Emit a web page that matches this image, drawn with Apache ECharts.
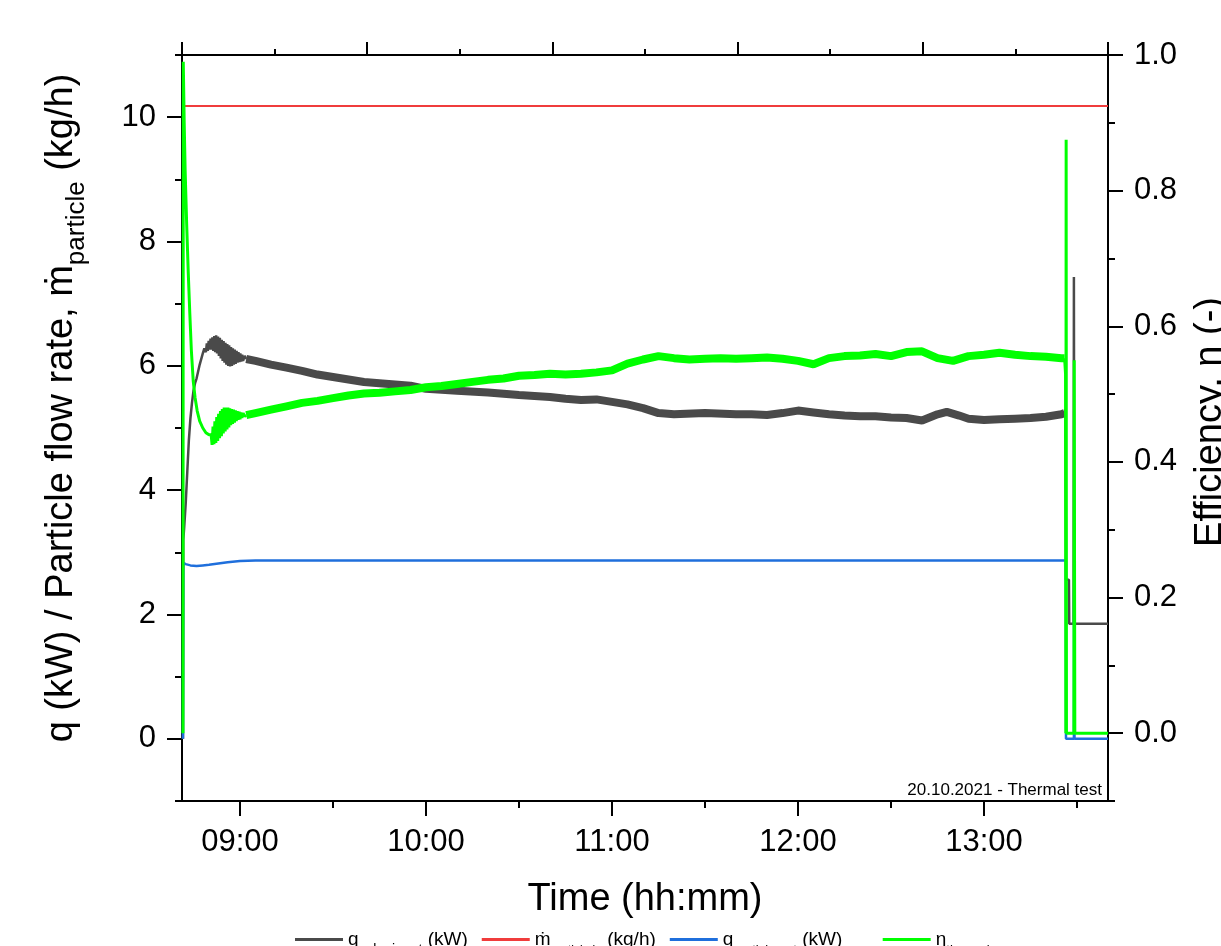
<!DOCTYPE html>
<html><head><meta charset="utf-8">
<script src="https://cdn.jsdelivr.net/npm/echarts@6/dist/echarts.min.js"></script>
<style>html,body{margin:0;padding:0;background:#fff}#c{width:1221px;height:946px}</style>
</head><body><div id="c"></div>
<script>
// ---- axis ticks (time in minutes since midnight) ----
const X_MIN = 521.29, X_MAX = 820.0;
const xMajorTicks = [540, 600, 660, 720, 780];
const xMinorTicks = [570, 630, 690, 750, 810];
const leftMajorTicks = [0, 2, 4, 6, 8, 10];
const leftMinorTicks = [-1, 1, 3, 5, 7, 9, 11];
const rightMajorTicks = [0, 0.2, 0.4, 0.6, 0.8, 1.0];
const rightMinorTicks = [-0.1, 0.1, 0.3, 0.5, 0.7, 0.9];

// ---- series names ----
const seriesNames = ['qSolar', 'mParticle', 'qParticle', 'eta'];

// ---- grey: q solar (kW), left axis ----
const qSolarRise = [[521.6,0],[521.7,3.2],[522,3.4],[522.5,3.8],[523,4.3],[523.5,4.8],[524,5.15],[524.5,5.4],[525,5.6],[525.5,5.72],[526,5.8],[527,6.02],[528,6.2],[528.5,6.28],
 [529.0,6.22],[529.3,6.36],[529.6,6.24],[529.9,6.40],[530.2,6.26],[530.5,6.44],[530.8,6.26],[531.1,6.46],[531.4,6.24],[531.7,6.48],[532.0,6.22],[532.3,6.49],[532.6,6.20],[532.9,6.47],[533.2,6.16],[533.5,6.45],[533.8,6.12],[534.1,6.42],[534.4,6.08],[534.7,6.40],[535.0,6.05],[535.3,6.37],[535.6,6.02],[535.9,6.35],[536.2,6.00],[536.5,6.33],[536.8,5.99],[537.1,6.30],[537.4,6.00],[537.7,6.28],[538.0,6.02],[538.3,6.26],[538.6,6.03],[538.9,6.24],[539.2,6.05],[539.5,6.22],[539.8,6.06],[540.1,6.20],[540.4,6.07],[540.7,6.18],[541.0,6.08],[541.5,6.16],[542.0,6.11]];
const qSolarSteady = [[542,6.11],[545,6.08],[550,6.02],[555,5.97],[560,5.92],[565,5.86],[570,5.82],[575,5.78],[580,5.74],[585,5.72],[590,5.70],[595,5.68],[600,5.63],[610,5.60],[620,5.57],[630,5.53],[640,5.50],[645,5.47],[650,5.45],[655,5.46],[660,5.42],[665,5.38],[670,5.32],[675,5.24],[680,5.22],[690,5.24],[700,5.22],[705,5.22],[710,5.21],[715,5.24],[720,5.28],[725,5.25],[730,5.22],[735,5.20],[740,5.19],[745,5.19],[750,5.17],[755,5.16],[760,5.12],[765,5.22],[768,5.26],[772,5.20],[775,5.15],[780,5.13],[785,5.14],[790,5.15],[795,5.16],[800,5.18],[805,5.22],[806,5.24]];
const qSolarEnd = [[806,5.24],[806.3,5.3],[806.45,2.56],[807.4,2.56],[807.5,1.85],[808.9,1.85],[809.0,7.43],[809.15,1.85],[820,1.85]];

// ---- red: particle mass flow (kg/h), left axis ----
const mParticle = [[521.7,10.18],[820,10.18]];

// ---- blue: q particle (kW), left axis ----
const qParticle = [[521.6,0],[521.7,2.83],[522.5,2.81],[524,2.79],[526,2.78],[528,2.79],[530,2.80],[533,2.82],[536,2.84],[540,2.86],[545,2.87],[806.4,2.87],[806.45,0],[809.0,0],[809.05,2.4],[809.2,0],[820,0]];

// ---- green: efficiency (-), right axis ----
const etaDrop = [[521.6,0],[521.7,0.99],[522,0.9],[522.3,0.83],[522.8,0.75],[523.3,0.68],[523.8,0.62],[524.3,0.565],[524.9,0.52],[525.5,0.495],[526.2,0.475],[527,0.46],[528,0.45],[529,0.443],[530,0.44],
 [530.7,0.44],[531.0,0.425],[531.3,0.452],[531.6,0.426],[531.9,0.46],[532.2,0.428],[532.5,0.466],[532.8,0.431],[533.1,0.471],[533.4,0.435],[533.7,0.475],[534.0,0.438],[534.3,0.478],[534.6,0.442],[534.9,0.48],[535.2,0.445],[535.5,0.48],[535.8,0.448],[536.1,0.48],[536.4,0.451],[536.7,0.479],[537.0,0.454],[537.3,0.478],[537.6,0.456],[537.9,0.477],[538.2,0.458],[538.5,0.476],[538.8,0.46],[539.1,0.475],[539.4,0.462],[539.7,0.474],[540.0,0.463],[540.3,0.473],[540.6,0.465],[541.0,0.472],[541.5,0.467],[542.0,0.469]];
const etaSteady = [[542,0.469],[545,0.472],[550,0.477],[555,0.482],[560,0.487],[565,0.49],[570,0.494],[575,0.498],[580,0.501],[585,0.502],[590,0.504],[595,0.506],[600,0.51],[605,0.512],[610,0.515],[615,0.518],[620,0.521],[625,0.523],[630,0.527],[635,0.528],[640,0.53],[645,0.529],[650,0.53],[655,0.532],[660,0.535],[665,0.545],[670,0.551],[675,0.556],[680,0.553],[685,0.551],[690,0.552],[695,0.553],[700,0.552],[705,0.553],[710,0.554],[715,0.552],[720,0.549],[725,0.544],[730,0.553],[735,0.556],[740,0.557],[745,0.559],[750,0.556],[755,0.562],[760,0.563],[765,0.553],[770,0.549],[775,0.556],[780,0.558],[785,0.561],[790,0.558],[795,0.556],[800,0.555],[805,0.553],[806,0.553]];
const etaEnd = [[806,0.553],[806.3,0.53],[806.4,0],[806.5,0.875],[806.6,0],[809.0,0],[809.1,0.55],[809.3,0],[820,0]];

const FONT = '"Liberation Sans", Arial, sans-serif';
const C_GREY = '#4a4a4a', C_RED = '#f03c3c', C_BLUE = '#1f6fdc', C_GREEN = '#00ff00';

function hhmm(v){ const h=Math.floor(v/60+1e-9); const m=Math.round(v-h*60); return String(h).padStart(2,'0')+':'+String(m).padStart(2,'0'); }
const legendLabels = {
  qSolar: 'q{s14|solar,input} (kW)',
  mParticle: 'ṁ{s12|particle,in} (kg/h)',
  qParticle: 'q{s|particle,net} (kW)     ',
  eta: 'η{s|thermal}'
};
const blackLine = {color:'#000', width:2};

const chart = echarts.init(document.getElementById('c'), null, {renderer:'canvas'});
function lineSeries(name, data, color, width, yIdx, z){
  return {name, type:'line', data, xAxisIndex:0, yAxisIndex:yIdx, showSymbol:false, symbol:'none',
    lineStyle:{color, width}, itemStyle:{color}, z, animation:false, clip:true};
}
chart.setOption({
  backgroundColor:'#fff',
  animation:false,
  grid:{left:182, right:113, top:55, bottom:145, containLabel:false, outerBoundsMode:'none'},
  legend:{data:seriesNames, top:925, left:290, icon:'rect', itemWidth:48, itemHeight:3, itemGap:14,
    formatter: n => legendLabels[n],
    textStyle:{fontFamily:FONT, fontSize:19, color:'#000',
      rich:{
        s:{fontFamily:FONT, fontSize:13, padding:[22,0,0,0]},
        s14:{fontFamily:FONT, fontSize:14, padding:[21,0,0,0]},
        s12:{fontFamily:FONT, fontSize:12, padding:[23,0,0,0]}}}},
  xAxis:[
    {type:'value', position:'bottom', min:X_MIN, max:X_MAX,
      axisLine:{show:true, onZero:false, lineStyle:blackLine},
      axisTick:{show:true, customValues:xMajorTicks, length:15, lineStyle:blackLine},
      axisLabel:{customValues:xMajorTicks, formatter:hhmm, fontFamily:FONT, fontSize:31, color:'#000', margin:26},
      splitLine:{show:false},
      name:'Time (hh:mm)', nameLocation:'middle', nameGap:80, nameTextStyle:{fontFamily:FONT, fontSize:38, color:'#000'}},
    {type:'value', position:'bottom', min:X_MIN, max:X_MAX,
      axisLine:{show:false, onZero:false}, axisTick:{show:true, customValues:xMinorTicks, length:7, lineStyle:blackLine},
      axisLabel:{show:false}, splitLine:{show:false}},
    {type:'value', position:'top', min:0, max:5, interval:1,
      axisLine:{show:true, onZero:false, lineStyle:blackLine},
      axisTick:{show:true, length:13, lineStyle:blackLine},
      minorTick:{show:true, splitNumber:2, length:6, lineStyle:blackLine},
      axisLabel:{show:false}, splitLine:{show:false}}
  ],
  yAxis:[
    {type:'value', position:'left', min:-1, max:11,
      axisLine:{show:true, onZero:false, lineStyle:blackLine},
      axisTick:{show:true, customValues:leftMajorTicks, length:15, lineStyle:blackLine},
      axisLabel:{customValues:leftMajorTicks, fontFamily:FONT, fontSize:31, color:'#000', margin:26},
      splitLine:{show:false}},
    {type:'value', position:'left', min:-1, max:11,
      axisLine:{show:false, onZero:false}, axisTick:{show:true, customValues:leftMinorTicks, length:7, lineStyle:blackLine},
      axisLabel:{show:false}, splitLine:{show:false}},
    {type:'value', position:'right', min:-0.1, max:1.0,
      axisLine:{show:true, onZero:false, lineStyle:blackLine},
      axisTick:{show:true, customValues:rightMajorTicks, length:15, lineStyle:blackLine},
      axisLabel:{customValues:rightMajorTicks, formatter:v=>v.toFixed(1), fontFamily:FONT, fontSize:31, color:'#000', margin:26},
      splitLine:{show:false}},
    {type:'value', position:'right', min:-0.1, max:1.0,
      axisLine:{show:false, onZero:false}, axisTick:{show:true, customValues:rightMinorTicks, length:7, lineStyle:blackLine},
      axisLabel:{show:false}, splitLine:{show:false}}
  ],
  graphic:[
    {type:'text', x:62, y:408, rotation:Math.PI/2, silent:true,
      style:{text:'q (kW) / Particle flow rate, ṁ{s|particle} (kg/h)', fontFamily:FONT, fontSize:38, fill:'#000',
        align:'center', verticalAlign:'middle',
        rich:{s:{fontFamily:FONT, fontSize:26, fill:'#000', padding:[30,0,0,0]}}}},
    {type:'text', x:1211, y:422, rotation:Math.PI/2, silent:true,
      style:{text:'Efficiency, η (-)', fontFamily:FONT, fontSize:38, fill:'#000', align:'center', verticalAlign:'middle'}},
    {type:'text', x:1102, y:799, silent:true, z:100,
      style:{text:'20.10.2021 - Thermal test', fontFamily:FONT, fontSize:17, fill:'#000', align:'right', verticalAlign:'bottom'}}
  ],
  series:[
    lineSeries('qSolar', qSolarRise, C_GREY, 2.5, 0, 2),
    lineSeries('qSolar', qSolarSteady, C_GREY, 8, 0, 2),
    lineSeries('qSolar', qSolarEnd, C_GREY, 2.5, 0, 2),
    lineSeries('mParticle', mParticle, C_RED, 2, 0, 3),
    lineSeries('qParticle', qParticle, C_BLUE, 2.5, 0, 4),
    lineSeries('eta', etaDrop, C_GREEN, 3, 2, 5),
    lineSeries('eta', etaSteady, C_GREEN, 8, 2, 5),
    lineSeries('eta', etaEnd, C_GREEN, 3, 2, 5)
  ]
});
</script></body></html>
